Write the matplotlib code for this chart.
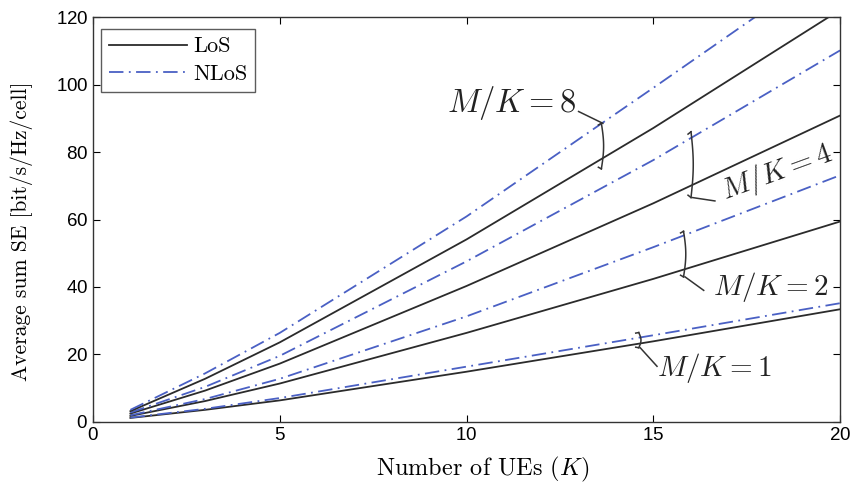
import numpy as np
import matplotlib
matplotlib.use('Agg')
import matplotlib.pyplot as plt

plt.rcParams['mathtext.fontset'] = 'cm'
plt.rcParams['axes.formatter.use_mathtext'] = True

# values (K = number of UEs)
K = [1, 3, 5, 10, 15, 20]
los_1 = [1.2, 3.6, 6.4, 14.9, 23.9, 33.4]
nlos_1 = [1.3, 3.9, 7.1, 16.4, 25.7, 35.2]
los_2 = [1.8, 6.2, 11.4, 26.4, 42.4, 59.4]
nlos_2 = [2.0, 6.8, 12.8, 31.3, 51.8, 73.1]
los_4 = [2.5, 9.3, 17.3, 40.3, 64.8, 90.8]
nlos_4 = [2.8, 10.4, 19.6, 47.6, 77.6, 110.1]
los_8 = [3.2, 12.8, 23.6, 54.1, 87.1, 122.1]
nlos_8 = [3.6, 14.4, 26.4, 60.9, 99.0, 137.5]

los_color = '#2b2b2b'
nlos_color = '#4a60c4'
serif = 'cmr10'

fig = plt.figure(figsize=(8.55, 4.82), dpi=100)
ax = fig.add_axes([0.1088, 0.1245, 0.8737, 0.8402])

pairs = [(los_1, nlos_1), (los_2, nlos_2), (los_4, nlos_4), (los_8, nlos_8)]
for i, (l, n) in enumerate(pairs):
    ax.plot(K, l, color=los_color, lw=1.3, label='LoS' if i == 0 else None)
    ax.plot(K, n, color=nlos_color, lw=1.3, dashes=(8, 3, 1, 3),
            label='NLoS' if i == 0 else None)

ax.set_xlim(0, 20)
ax.set_ylim(0, 120)
ax.set_xticks([0, 5, 10, 15, 20])
ax.set_yticks([0, 20, 40, 60, 80, 100, 120])
ax.tick_params(direction='in', top=True, right=True, length=5, labelsize=13.5)
for lab in ax.get_xticklabels() + ax.get_yticklabels():
    lab.set_fontfamily('Liberation Sans')
for s in ax.spines.values():
    s.set_linewidth(1.0)
    s.set_color('#333333')

ax.set_xlabel('Number of UEs ($K$)', fontsize=17.5, fontfamily=serif)
ax.xaxis.set_label_coords(0.521, -0.08)
ax.set_ylabel('Average sum SE [bit/s/Hz/cell]', fontsize=15.5, fontfamily=serif)
ax.yaxis.set_label_coords(-0.08, 0.47)

leg = ax.legend(loc='upper left', prop={'family': serif, 'size': 16},
                frameon=True, fancybox=False, edgecolor='#333333',
                handlelength=3.5, borderpad=0.35, labelspacing=0.35,
                handletextpad=0.3, borderaxespad=0.0,
                bbox_to_anchor=(0.0107, 0.97))
leg.get_frame().set_linewidth(1.0)


def brace(x, y_top, y_bot, lead_end, at_top):
    h = (y_top - y_bot) * 0.12
    ys = np.linspace(y_bot, y_top, 40)
    t = (ys - y_bot) / (y_top - y_bot)
    xs = x + 0.06 * np.sin(np.pi * t) - 0.04
    ax.plot(xs, ys, color='#333333', lw=1.1)
    ax.plot([x - 0.04, x - 0.12], [y_top, y_top - h * 0.3], color='#333333', lw=1.1)
    ax.plot([x - 0.04, x - 0.12], [y_bot, y_bot + h * 0.3], color='#333333', lw=1.1)
    start = (x, y_top) if at_top else (x, y_bot)
    ax.plot([start[0], lead_end[0]], [start[1], lead_end[1]], color='#333333', lw=1.1)


brace(13.65, 88.5, 75.0, (13.0, 92.0), True)
brace(16.05, 86.0, 66.5, (16.65, 65.5), False)
brace(15.85, 56.5, 43.0, (16.35, 39.0), False)
brace(14.65, 26.5, 22.0, (15.1, 16.5), False)

tcol = '#222222'
ax.text(12.95, 94.5, '$M/K = 8$', fontsize=23.5, ha='right', va='center', color=tcol)
ax.text(18.3, 74.0, '$M/K = 4$', fontsize=21, ha='center', va='center', color=tcol, rotation=20)
ax.text(18.15, 40.0, '$M/K = 2$', fontsize=21, ha='center', va='center', color=tcol)
ax.text(16.65, 16.0, '$M/K = 1$', fontsize=21, ha='center', va='center', color=tcol)

fig.savefig('out.png', dpi=100)
